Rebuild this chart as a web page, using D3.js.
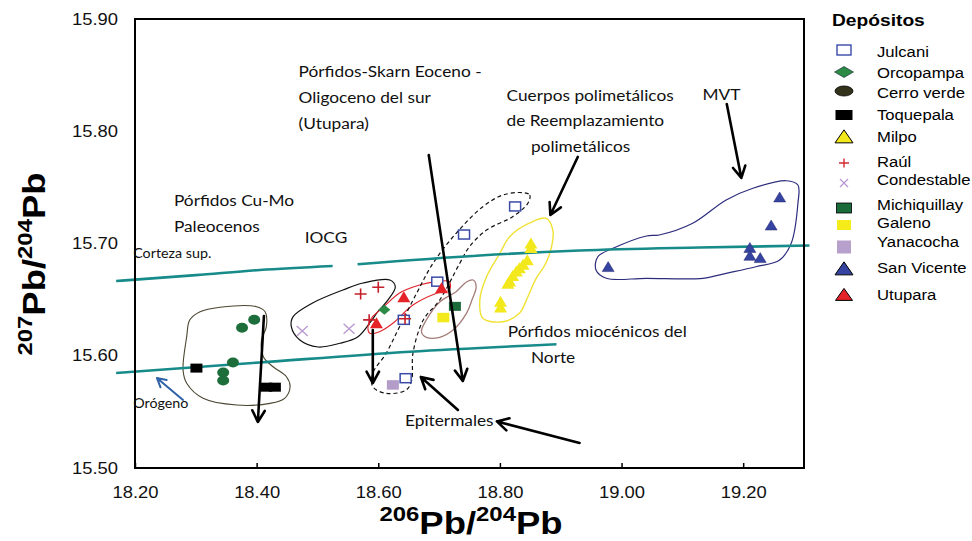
<!DOCTYPE html>
<html><head><meta charset="utf-8">
<script src="https://cdn.jsdelivr.net/npm/d3@7"></script>
<style>body{margin:0;background:#fff}</style>
</head><body><svg id="chart" width="972" height="541"></svg>
<script>
// ---- axis ticks ----
const xTicks = [18.20, 18.40, 18.60, 18.80, 19.00, 19.20];
const yTicks = [15.50, 15.60, 15.70, 15.80, 15.90];

// ---- deposits: [206Pb/204Pb, 207Pb/204Pb] ----
const julcani = [[18.697,15.666],[18.642,15.632],[18.645,15.580],[18.825,15.733],[18.741,15.708]];
const orcopampa = [[18.610,15.641]];
const cerroVerde = [[18.396,15.632],[18.376,15.625],[18.361,15.594],[18.345,15.585],[18.345,15.578]];
const toquepala = [[18.301,15.589],[18.416,15.572],[18.430,15.572]];
const milpo = [[18.851,15.700],[18.851,15.696],[18.845,15.685],[18.838,15.681],[18.832,15.678],[18.827,15.675],
               [18.821,15.671],[18.816,15.666],[18.813,15.664],[18.801,15.648],[18.801,15.643]];
const raul = [[18.571,15.655],[18.600,15.661],[18.585,15.632],[18.644,15.633]];
const condestable = [[18.475,15.622],[18.552,15.624]];
const michiquillay = [[18.726,15.644]];
const galeno = [[18.707,15.634]];
const yanacocha = [[18.624,15.574]];
const sanVicente = [[19.260,15.741],[19.246,15.716],[19.211,15.696],[19.211,15.689],[19.228,15.687],[18.978,15.679]];
const utupara = [[18.597,15.629],[18.642,15.652],[18.704,15.660]];

// ---- reference growth curves ----
const cortezaA = [[18.169,15.6666],[18.300,15.6718],[18.405,15.6764],[18.525,15.6800]];
const cortezaB = [[18.566,15.6815],[18.767,15.6893],[18.931,15.6937],[19.128,15.6964],[19.309,15.6982]];
const orogeno = [[18.169,15.5846],[18.405,15.5940],[18.652,15.6036],[18.893,15.6102]];

// ---- field outlines ----
const fieldPaleoceno = [[18.290,15.6318],[18.307,15.6392],[18.340,15.6432],[18.400,15.6437],[18.414,15.6392],[18.416,15.6259],
  [18.408,15.6140],[18.411,15.5992],[18.427,15.5902],[18.449,15.5813],[18.455,15.5724],[18.446,15.5621],[18.422,15.5576],
  [18.367,15.5561],[18.312,15.5621],[18.285,15.5755],[18.279,15.5873],[18.285,15.6170]];
const fieldIOCG = [[18.460,15.6348],[18.492,15.6470],[18.542,15.6586],[18.575,15.6648],[18.619,15.6675],[18.628,15.6615],
  [18.616,15.6497],[18.599,15.6390],[18.586,15.6292],[18.566,15.6167],[18.537,15.6111],[18.501,15.6078],[18.471,15.6140],[18.457,15.6259]];
const fieldUtupara = [[18.589,15.6336],[18.607,15.6425],[18.635,15.6559],[18.668,15.6630],[18.696,15.6660],[18.717,15.6660],
  [18.717,15.6586],[18.696,15.6556],[18.657,15.6452],[18.624,15.6289],[18.602,15.6214],[18.586,15.6200],[18.583,15.6245]];
const fieldMiocenoSur = [[18.671,15.6214],[18.679,15.6318],[18.701,15.6479],[18.728,15.6571],[18.745,15.6657],[18.756,15.6675],
  [18.761,15.6615],[18.754,15.6497],[18.745,15.6378],[18.723,15.6229],[18.701,15.6164],[18.679,15.6164]];
const fieldEpitermal = [[18.838,15.7453],[18.849,15.7432],[18.846,15.7358],[18.821,15.7239],[18.778,15.7120],[18.750,15.6972],
  [18.734,15.6824],[18.701,15.6497],[18.674,15.6318],[18.657,15.6022],[18.655,15.5784],[18.646,15.5695],[18.613,15.5665],
  [18.591,15.5724],[18.591,15.5844],[18.613,15.6022],[18.635,15.6259],[18.663,15.6556],[18.690,15.6824],[18.728,15.7091],
  [18.772,15.7328],[18.805,15.7432]];
const fieldPolimetalico = [[18.876,15.7224],[18.887,15.7120],[18.885,15.6972],[18.874,15.6808],[18.860,15.6693],[18.846,15.6526],
  [18.832,15.6378],[18.805,15.6303],[18.772,15.6334],[18.767,15.6497],[18.778,15.6704],[18.800,15.6913],[18.816,15.7061],[18.849,15.7183]];
const fieldMVT = [[18.961,15.6882],[18.986,15.6957],[19.041,15.7067],[19.062,15.7076],[19.117,15.7180],[19.172,15.7388],
  [19.216,15.7492],[19.271,15.7559],[19.290,15.7521],[19.290,15.7358],[19.279,15.7002],[19.260,15.6853],[19.221,15.6793],
  [19.172,15.6734],[19.134,15.6690],[19.041,15.6690],[18.975,15.6690],[18.958,15.6764]];

// ---- arrows: [tail, head] ----
const blackArrows = [
  [[18.412,15.6354],[18.402,15.5410]],
  [[18.591,15.6229],[18.591,15.5757]],
  [[18.683,15.7788],[18.739,15.5775]],
  [[18.928,15.7771],[18.883,15.7254]],
  [[19.173,15.8243],[19.197,15.7584]],
  [[18.731,15.5517],[18.670,15.5811]],
  [[18.931,15.5223],[18.795,15.5415]]
];
const orogenoArrow = [[18.279,15.5606],[18.236,15.5802]];

// ---- annotations ----
const notes = [
  ["Pórfidos Cu-Mo", 18.264, 15.7330],
  ["Paleocenos", 18.264, 15.7099],
  ["IOCG", 18.479, 15.7004],
  ["Pórfidos-Skarn Eoceno -", 18.469, 15.8483],
  ["Oligoceno del sur", 18.469, 15.8252],
  ["(Utupara)", 18.469, 15.8020],
  ["Cuerpos polimetálicos", 18.811, 15.8269],
  ["de Reemplazamiento", 18.811, 15.8047],
  ["polimetálicos", 18.851, 15.7815],
  ["MVT", 19.133, 15.8278],
  ["Pórfidos  miocénicos del", 18.813, 15.6167],
  ["Norte", 18.851, 15.5935],
  ["Epitermales", 18.644, 15.5374]
];
const smallNotes = [["Corteza sup.", 18.197, 15.6871], ["Orógeno", 18.197, 15.5534]];

const ARIAL = "'Liberation Sans', Arial, sans-serif";
const CAL = "Lato, Carlito, Calibri, sans-serif";
const SX = 1.15;

const svg = d3.select("#chart");
const x = d3.scaleLinear().domain([18.20, 19.30]).range([135, 804]);
const y = d3.scaleLinear().domain([15.50, 15.90]).range([468, 19]);

function txt(sel, s, px, py, o = {}) {
  return sel.append("text")
    .attr("transform", `translate(${px},${py}) rotate(${o.rot || 0}) scale(${o.sx || SX},1)`)
    .attr("text-anchor", o.anchor || "start")
    .attr("font-family", o.font || ARIAL)
    .attr("font-size", o.size || 14)
    .attr("font-weight", o.weight || "normal")
    .attr("fill", o.fill || "#000")
    .text(s);
}

// marker shapes
function mark(g, kind, cx, cy, s) {
  const w = s.w, h = s.h;
  let el;
  if (kind === "square") {
    el = g.append("rect").attr("x", cx - w / 2).attr("y", cy - h / 2).attr("width", w).attr("height", h);
  } else if (kind === "tri") {
    el = g.append("path").attr("d", `M${cx},${cy - h * 0.55}L${cx + w / 2},${cy + h * 0.45}L${cx - w / 2},${cy + h * 0.45}Z`);
  } else if (kind === "circle") {
    el = g.append("ellipse").attr("cx", cx).attr("cy", cy).attr("rx", w / 2).attr("ry", h / 2);
  } else if (kind === "diamond") {
    el = g.append("path").attr("d", `M${cx},${cy - h / 2}L${cx + w / 2},${cy}L${cx},${cy + h / 2}L${cx - w / 2},${cy}Z`);
  } else if (kind === "plus") {
    el = g.append("path").attr("d", `M${cx - w / 2},${cy}H${cx + w / 2}M${cx},${cy - h / 2}V${cy + h / 2}`);
  } else if (kind === "cross") {
    el = g.append("path").attr("d", `M${cx - w / 2},${cy - h / 2}L${cx + w / 2},${cy + h / 2}M${cx - w / 2},${cy + h / 2}L${cx + w / 2},${cy - h / 2}`);
  }
  el.attr("fill", s.fill || "none").attr("stroke", s.stroke || "none").attr("stroke-width", s.sw || 0);
  return el;
}

// ---- outlines ----
const closed = d3.line().x(d => x(d[0])).y(d => y(d[1])).curve(d3.curveCatmullRomClosed.alpha(0.5));
const gF = svg.append("g").attr("fill", "none");
[
  [fieldPaleoceno, "#4a4630", 1.1, null],
  [fieldIOCG, "#111", 1.2, null],
  [fieldUtupara, "#e0242c", 1.1, null],
  [fieldMiocenoSur, "#a37c78", 1.3, null],
  [fieldEpitermal, "#111", 1.2, "4,3"],
  [fieldPolimetalico, "#f0e234", 1.4, null],
  [fieldMVT, "#2c2c7c", 1.2, null]
].forEach(([pts, c, sw, dash]) => {
  gF.append("path").attr("d", closed(pts)).attr("stroke", c).attr("stroke-width", sw)
    .attr("stroke-dasharray", dash);
});

// ---- growth curves ----
const open = d3.line().x(d => x(d[0])).y(d => y(d[1])).curve(d3.curveMonotoneX);
[cortezaA, cortezaB, orogeno].forEach(c => {
  svg.append("path").attr("d", open(c)).attr("fill", "none").attr("stroke", "#178a8a").attr("stroke-width", 2.6);
});

// ---- frame and axes ----
svg.append("rect").attr("x", 135).attr("y", 19).attr("width", 804 - 135).attr("height", 468 - 19)
  .attr("fill", "none").attr("stroke", "#000").attr("stroke-width", 2);

const gx = svg.append("g").attr("transform", "translate(0,468)")
  .call(d3.axisBottom(x).tickValues(xTicks).tickSizeInner(-5).tickSizeOuter(0).tickPadding(18.6).tickFormat(d3.format(".2f")));
const gy = svg.append("g").attr("transform", "translate(135,0)")
  .call(d3.axisLeft(y).tickValues(yTicks).tickSize(0).tickPadding(14.8).tickFormat(d3.format(".2f")));
[gx, gy].forEach(g => {
  g.select(".domain").remove();
  g.selectAll("line").attr("stroke", "#000").attr("stroke-width", 1.5);
  g.selectAll("text").attr("font-family", ARIAL).attr("font-size", 16).attr("fill", "#111")
    .attr("transform", `scale(${SX},1)`);
});
gx.selectAll("text").attr("x", 0);

// ---- series ----
const series = [
  { name: "Julcani", data: julcani, kind: "square", plot: { w: 11, h: 9, stroke: "#3a4aa8", sw: 1.5, fill: "#fff" }, leg: { w: 14, h: 10, stroke: "#3a4aa8", sw: 1.4, fill: "#fff" } },
  { name: "Orcopampa", data: orcopampa, kind: "diamond", plot: { w: 12, h: 10, fill: "#2a8a46" }, leg: { w: 19, h: 11, fill: "#2e8b45", stroke: "#123", sw: 0.6 } },
  { name: "Cerro verde", data: cerroVerde, kind: "circle", plot: { w: 12, h: 10, fill: "#1e6e3c" }, leg: { w: 18, h: 10, fill: "#33331c", stroke: "#000", sw: 0.8 } },
  { name: "Toquepala", data: toquepala, kind: "square", plot: { w: 12, h: 9, fill: "#000" }, leg: { w: 17, h: 10, fill: "#000" } },
  { name: "Milpo", data: milpo, kind: "tri", plot: { w: 13, h: 11, fill: "#f2e81c" }, leg: { w: 18, h: 13, fill: "#f2e81c", stroke: "#000", sw: 1 } },
  { name: "Raúl", data: raul, kind: "plus", plot: { w: 12, h: 11, stroke: "#c41f2a", sw: 1.6 }, leg: { w: 10, h: 9, stroke: "#d42a30", sw: 1.4 } },
  { name: "Condestable", data: condestable, kind: "cross", plot: { w: 11, h: 10, stroke: "#b89ad0", sw: 1.4 }, leg: { w: 8, h: 8, stroke: "#b89ad0", sw: 1.3 } },
  { name: "Michiquillay", data: michiquillay, kind: "square", plot: { w: 12, h: 9, fill: "#1b6b3a" }, leg: { w: 15, h: 10, fill: "#1b6b3a", stroke: "#000", sw: 0.8 } },
  { name: "Galeno", data: galeno, kind: "square", plot: { w: 12, h: 9.5, fill: "#f2ea1c" }, leg: { w: 14, h: 10, fill: "#f5ec1a" } },
  { name: "Yanacocha", data: yanacocha, kind: "square", plot: { w: 12, h: 9.5, fill: "#b49cc8" }, leg: { w: 14, h: 13, fill: "#b8a0cc" } },
  { name: "San Vicente", data: sanVicente, kind: "tri", plot: { w: 12, h: 10, fill: "#3444a0", stroke: "#2a2a70", sw: 0.5 }, leg: { w: 18, h: 13, fill: "#3444a0", stroke: "#000", sw: 1 } },
  { name: "Utupara", data: utupara, kind: "tri", plot: { w: 13, h: 11, fill: "#e42228" }, leg: { w: 17, h: 12, fill: "#e42228", stroke: "#000", sw: 1 } }
];

const gM = svg.append("g");
series.forEach(s => s.data.forEach(d => mark(gM, s.kind, x(d[0]), y(d[1]), s.plot)));

// ---- arrows ----
function arrow(g, a, color, sw, len) {
  const x1 = x(a[0][0]), y1 = y(a[0][1]), x2 = x(a[1][0]), y2 = y(a[1][1]);
  const ang = Math.atan2(y2 - y1, x2 - x1), sp = 0.5;
  const p1 = [x2 - len * Math.cos(ang - sp), y2 - len * Math.sin(ang - sp)];
  const p2 = [x2 - len * Math.cos(ang + sp), y2 - len * Math.sin(ang + sp)];
  g.append("path").attr("d", `M${x1},${y1}L${x2},${y2}M${p1[0]},${p1[1]}L${x2},${y2}L${p2[0]},${p2[1]}`)
    .attr("fill", "none").attr("stroke", color).attr("stroke-width", sw).attr("stroke-linecap", "round").attr("stroke-linejoin", "round");
}
const gA = svg.append("g");
blackArrows.forEach(a => arrow(gA, a, "#000", 2.6, 13));
arrow(gA, orogenoArrow, "#2f62a8", 2, 10);

// ---- annotations ----
notes.forEach(n => txt(svg, n[0], x(n[1]), y(n[2]), { font: CAL, size: 16, sx: 1.08, fill: "#111" }));
smallNotes.forEach(n => txt(svg, n[0], x(n[1]), y(n[2]), { font: CAL, size: 13, sx: 1.1, fill: "#111" }));

// ---- axis titles ----
function isoTitle(px, py, rot, a, b) {
  const t = svg.append("text")
    .attr("transform", `translate(${px},${py}) rotate(${rot}) scale(1.14,1)`)
    .attr("text-anchor", "middle").attr("font-family", ARIAL).attr("font-weight", "bold").attr("fill", "#000");
  t.append("tspan").attr("font-size", 21).attr("dy", -13).text(a);
  t.append("tspan").attr("font-size", 32).attr("dy", 13).text("Pb/");
  t.append("tspan").attr("font-size", 21).attr("dy", -13).text(b);
  t.append("tspan").attr("font-size", 32).attr("dy", 13).text("Pb");
}
isoTitle(471, 534, 0, "206", "204");
isoTitle(45, 264, -90, "207", "204");

// ---- legend ----
const gL = svg.append("g");
txt(gL, "Depósitos", 832, 26, { size: 17, weight: "bold", sx: 1.13 });
const legRows = [50, 72, 91, 115, 137, 163, 183, 208, 225, 247, 269, 295];
const legText = [52, 73, 93, 115, 137, 162, 180, 205, 223, 242, 268, 295];
series.forEach((s, i) => {
  mark(gL, s.kind, 844, legRows[i], s.leg);
  txt(gL, s.name, 877, legText[i] + 5, { size: 14.5 });
});
</script>
</body></html>
